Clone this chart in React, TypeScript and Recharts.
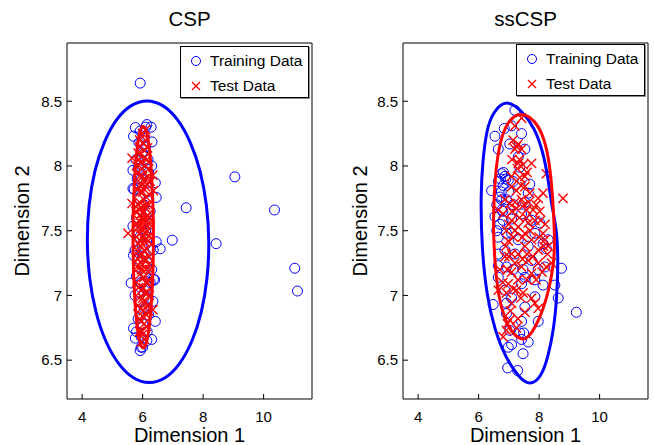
import { ScatterChart, Scatter, XAxis, YAxis } from "recharts";

type Pt = [number, number];

const xTicks = [4, 6, 8, 10];
const yTicks = [6.5, 7, 7.5, 8, 8.5];
const xDomain: [number, number] = [3.5, 11.6];
const yDomain: [number, number] = [6.2, 8.95];

// CSP panel
const cspTrain: Pt[] = [
    [5.92, 8.64], [9.05, 7.916], [7.44, 7.677], [10.36, 7.66], [6.98, 7.427],
    [8.43, 7.4], [6.58, 7.36], [11.03, 7.21], [11.12, 7.034], [6.42, 7.87],
    [6.45, 7.757], [6.45, 7.415], [6.36, 7.125], [6.42, 6.8], [6.34, 6.954],
    [6.14, 6.65], [5.92, 6.574], [5.95, 6.6], [5.76, 6.67], [5.7, 6.747],
    [5.62, 7.096], [5.7, 7.31], [5.68, 7.535], [5.68, 7.826], [5.68, 7.967],
    [5.7, 8.23], [5.76, 8.297], [6.14, 8.32], [6.1, 8.3], [5.92, 8.27],
    [6.31, 8.186], [5.78, 8.05], [5.85, 7.98], [6.0, 8.1], [6.1, 8.15],
    [5.95, 7.9], [6.2, 7.95], [6.3, 8.0], [5.72, 7.82], [5.9, 7.75],
    [6.05, 7.7], [6.15, 7.8], [6.25, 7.65], [5.8, 7.6], [6.0, 7.55],
    [6.1, 7.5], [5.9, 7.45], [6.2, 7.45], [6.35, 7.35], [5.75, 7.35],
    [5.85, 7.28], [6.0, 7.3], [6.15, 7.25], [6.3, 7.2], [5.8, 7.15],
    [5.95, 7.1], [6.1, 7.05], [6.25, 7.1], [6.4, 7.12], [5.75, 7.0],
    [5.9, 6.95], [6.05, 6.9], [6.2, 6.85], [5.85, 6.82], [6.0, 6.78],
    [6.15, 6.72], [5.8, 6.72], [6.3, 6.66], [5.95, 6.68], [6.05, 8.22],
    [5.88, 8.18], [6.28, 8.3], [6.12, 7.62], [5.98, 7.38], [6.08, 7.18],
    [5.92, 7.02], [6.18, 6.98], [6.22, 7.55], [5.82, 7.9], [6.18, 8.05],
    [6.0, 6.6],
];

const cspTest: Pt[] = [
    [5.9, 8.2], [6.0, 8.25], [6.1, 8.2], [5.85, 8.1], [6.05, 8.12],
    [6.15, 8.05], [5.8, 8.0], [5.95, 8.02], [6.2, 7.98], [5.9, 7.92],
    [6.05, 7.9], [6.25, 7.88], [5.82, 7.82], [6.0, 7.8], [6.12, 7.76],
    [5.9, 7.72], [6.2, 7.7], [5.78, 7.65], [6.0, 7.64], [6.1, 7.6],
    [5.88, 7.58], [6.25, 7.55], [5.95, 7.52], [6.08, 7.48], [5.8, 7.45],
    [6.18, 7.42], [5.92, 7.38], [6.05, 7.35], [6.22, 7.3], [5.85, 7.28],
    [6.0, 7.24], [6.12, 7.2], [5.9, 7.16], [6.2, 7.12], [5.8, 7.1],
    [6.02, 7.06], [6.15, 7.02], [5.88, 6.98], [6.08, 6.95], [5.95, 6.9],
    [6.2, 6.88], [5.9, 6.82], [6.05, 6.78], [6.0, 6.7], [5.96, 6.64],
    [6.1, 8.28], [5.98, 7.98], [6.1, 7.84], [5.95, 7.68], [6.15, 7.5],
    [5.9, 7.3], [6.1, 7.1], [6.0, 6.98], [6.12, 6.85], [5.84, 7.52],
    [6.06, 7.42], [6.16, 7.62], [5.86, 7.4], [6.24, 7.2], [5.94, 7.84],
    [5.52, 7.48], [5.65, 7.71], [6.34, 7.93], [6.34, 6.89], [6.36, 7.81],
    [5.65, 8.06], [5.92, 8.15], [6.02, 8.18], [5.88, 8.05], [6.08, 8.0],
    [6.18, 7.92], [5.84, 7.95], [5.96, 7.86], [6.14, 7.86], [6.04, 7.74],
    [5.86, 7.7], [6.22, 7.78], [6.08, 7.68], [5.92, 7.62], [6.2, 7.6],
    [5.82, 7.55], [6.02, 7.58], [6.12, 7.54], [5.9, 7.48], [6.0, 7.45],
    [6.22, 7.46], [5.86, 7.34], [6.14, 7.36], [5.98, 7.32], [6.1, 7.28],
    [5.82, 7.22], [5.96, 7.2], [6.2, 7.24], [6.04, 7.14], [5.86, 7.06],
    [6.16, 7.1], [5.96, 7.04], [6.22, 7.0], [5.84, 6.92], [6.02, 6.88],
    [6.14, 6.92], [5.94, 6.8], [6.12, 6.76], [5.98, 6.72], [6.06, 6.66],
    [5.9, 6.72], [6.06, 8.06], [5.94, 8.1], [6.16, 8.14], [6.0, 7.92],
    [5.92, 7.8], [6.1, 7.7], [5.98, 7.6], [6.04, 7.52], [5.94, 7.42],
    [6.12, 7.44], [6.02, 7.28], [5.92, 7.22], [6.08, 7.02], [6.0, 6.84],
    [5.9, 7.66],
];

const cspTrainEllipse: Pt[] = [
    [8.21, 7.415], [8.13, 7.7], [7.92, 7.965], [7.59, 8.19], [7.16, 8.37],
    [6.67, 8.478], [6.14, 8.515], [5.62, 8.478], [5.13, 8.37], [4.72, 8.19],
    [4.4, 7.965], [4.21, 7.7], [4.15, 7.415], [4.23, 7.13], [4.44, 6.865],
    [4.77, 6.637], [5.2, 6.463], [5.69, 6.352], [6.22, 6.315], [6.75, 6.352],
    [7.23, 6.463], [7.64, 6.637], [7.96, 6.865], [8.15, 7.13],
];

const cspTestEllipse: Pt[] = [
    [6.36, 7.45], [6.35, 7.674], [6.31, 7.883], [6.26, 8.062], [6.19, 8.199],
    [6.11, 8.286], [6.02, 8.315], [5.93, 8.286], [5.85, 8.199], [5.78, 8.062],
    [5.73, 7.883], [5.69, 7.674], [5.68, 7.45], [5.69, 7.226], [5.73, 7.017],
    [5.78, 6.838], [5.85, 6.701], [5.93, 6.614], [6.02, 6.585], [6.11, 6.614],
    [6.19, 6.701], [6.26, 6.838], [6.31, 7.017], [6.35, 7.226],
];

// ssCSP panel
const sscspTrain: Pt[] = [
    [7.2, 8.43], [6.54, 8.23], [6.85, 8.29], [7.09, 8.31], [7.42, 8.25],
    [7.53, 8.13], [6.65, 8.13], [7.03, 8.17], [7.31, 8.07], [6.76, 7.94],
    [6.87, 7.92], [6.65, 7.88], [6.81, 7.85], [6.98, 7.89], [7.14, 7.88],
    [6.43, 7.81], [6.7, 7.76], [6.92, 7.74], [7.53, 7.72], [7.69, 7.86],
    [6.54, 7.61], [6.81, 7.58], [7.09, 7.59], [7.42, 7.63], [7.75, 7.58],
    [8.02, 7.56], [6.65, 7.45], [6.92, 7.48], [7.31, 7.43], [7.64, 7.38],
    [8.13, 7.4], [8.24, 7.36], [6.87, 7.35], [6.65, 7.23], [6.92, 7.22],
    [7.14, 7.2], [7.47, 7.2], [7.97, 7.2], [8.74, 7.21], [7.53, 7.14],
    [7.86, 7.12], [8.13, 7.08], [8.52, 7.08], [7.42, 7.09], [6.48, 6.93],
    [6.92, 6.94], [7.09, 6.98], [7.53, 6.91], [8.63, 6.98], [9.23, 6.87],
    [6.92, 6.86], [7.42, 6.8], [7.97, 6.8], [7.03, 6.73], [7.36, 6.71],
    [7.49, 6.71], [7.64, 6.64], [7.42, 6.66], [7.09, 6.62], [6.98, 6.6],
    [7.47, 6.55], [6.96, 6.44], [7.29, 6.42], [6.76, 7.74], [6.76, 7.66],
    [7.09, 7.48], [7.2, 7.32], [7.75, 7.27], [7.86, 7.48], [7.64, 7.79],
    [7.36, 7.99], [6.65, 7.32], [6.65, 7.14], [6.87, 7.04], [7.86, 6.99],
    [8.19, 7.22], [8.3, 7.43], [6.72, 7.9], [6.82, 7.95], [6.9, 7.9],
    [6.75, 7.8], [6.6, 7.7], [6.7, 7.55], [6.6, 7.5], [7.0, 7.8],
    [6.8, 7.65], [7.15, 7.7],
];

const sscspTest: Pt[] = [
    [7.42, 8.37], [7.2, 8.31], [7.14, 8.2], [7.31, 8.17], [7.42, 8.13],
    [7.2, 8.13], [7.31, 8.02], [7.47, 8.01], [7.75, 8.02], [7.53, 7.92],
    [8.24, 7.94], [7.09, 7.84], [7.25, 7.81], [7.53, 7.84], [7.69, 7.79],
    [7.97, 7.75], [8.13, 7.79], [8.79, 7.75], [6.87, 7.74], [7.03, 7.71],
    [7.25, 7.67], [7.58, 7.66], [7.8, 7.66], [8.02, 7.65], [6.65, 7.66],
    [6.81, 7.63], [7.09, 7.58], [7.31, 7.53], [7.53, 7.48], [6.92, 7.5],
    [7.2, 7.5], [8.13, 7.48], [8.19, 7.43], [8.3, 7.38], [7.75, 7.43],
    [7.53, 7.38], [7.31, 7.32], [7.09, 7.32], [6.87, 7.3], [7.64, 7.27],
    [7.97, 7.25], [8.24, 7.22], [6.7, 7.2], [7.09, 7.18], [7.42, 7.22],
    [7.75, 7.17], [6.98, 7.09], [7.25, 7.04], [6.92, 7.02], [7.47, 7.02],
    [6.65, 7.04], [7.09, 6.94], [7.86, 6.94], [7.97, 6.9], [7.53, 6.87],
    [7.03, 6.81], [6.92, 6.73], [7.25, 6.75], [6.81, 6.68], [8.41, 7.25],
    [7.86, 7.58], [6.98, 7.42], [7.42, 7.74], [7.64, 7.56], [7.97, 7.35],
    [7.09, 7.92], [7.36, 7.91], [7.25, 8.15], [7.35, 8.05], [7.28, 7.98],
    [7.6, 7.95], [7.4, 7.85], [7.65, 7.72], [7.9, 7.7], [8.05, 7.58],
    [8.2, 7.55], [8.15, 7.38], [8.28, 7.32], [7.1, 7.65], [7.35, 7.6],
    [7.0, 7.55], [7.15, 7.45], [7.45, 7.45], [7.6, 7.32], [7.8, 7.3],
    [7.45, 7.28], [7.2, 7.25], [6.95, 7.2], [7.3, 7.12], [7.6, 7.12],
    [7.9, 7.12], [8.1, 7.18], [7.15, 7.05], [7.4, 6.98], [6.8, 7.1],
    [7.05, 6.88], [7.75, 6.98], [7.3, 6.82], [6.95, 6.78], [7.58, 7.6],
    [7.2, 7.72], [6.9, 7.38], [7.7, 7.5], [7.0, 7.3], [7.5, 7.7],
    [8.0, 7.45], [7.1, 8.05],
];

const sscspTrainEllipse: Pt[] = [
    [6.92, 8.52], [7.47, 8.417], [7.86, 8.29], [8.13, 8.11], [8.3, 7.9],
    [8.41, 7.7], [8.59, 7.505], [8.63, 7.25], [8.59, 6.99], [8.48, 6.73],
    [8.3, 6.53], [8.08, 6.37], [7.69, 6.3], [7.31, 6.37], [6.87, 6.53],
    [6.54, 6.73], [6.27, 6.99], [6.1, 7.376], [6.07, 7.775], [6.13, 8.03],
    [6.27, 8.29], [6.48, 8.417],
];

const sscspTestEllipse: Pt[] = [
    [7.42, 8.417], [7.86, 8.353], [8.13, 8.238], [8.3, 8.083], [8.41, 7.877],
    [8.48, 7.646], [8.52, 7.389], [8.48, 7.248], [8.35, 7.067], [8.13, 6.887],
    [7.86, 6.746], [7.64, 6.677], [7.47, 6.652], [7.14, 6.695], [6.87, 6.81],
    [6.65, 6.99], [6.54, 7.248], [6.48, 7.505], [6.51, 7.775], [6.59, 8.03],
    [6.76, 8.238], [7.03, 8.367],
];

const FONT = '"Liberation Sans", Arial, Helvetica, sans-serif';
const BLUE = "#0000ff";
const RED = "#ff0000";

const toObj = (pts: Pt[]) => pts.map(([x, y]) => ({ x, y }));

const Circle = (p: any) => (
    <circle cx={p.cx} cy={p.cy} r={5} fill="none" stroke={BLUE} strokeWidth={1} />
);
const Cross = (p: any) => (
    <g stroke={RED} strokeWidth={1.4}>
        <line x1={p.cx - 4.6} y1={p.cy - 4.6} x2={p.cx + 4.6} y2={p.cy + 4.6} />
        <line x1={p.cx - 4.6} y1={p.cy + 4.6} x2={p.cx + 4.6} y2={p.cy - 4.6} />
    </g>
);
const NoDot = () => <g />;

type PanelProps = {
    left: number;
    title: string;
    train: Pt[];
    test: Pt[];
    trainEll: Pt[];
    testEll: Pt[];
    yWidth: number;
    rightWidth: number;
    marginRight: number;
    legendLeft: number;
    legendTop: number;
    ylabelX: number;
};

function Panel(p: PanelProps) {
    const plotLeft = p.yWidth;
    const plotRight = 327 - p.marginRight - p.rightWidth;
    const cx = (plotLeft + plotRight) / 2;
    const tickStyle = { fontSize: 15, fill: "#000", fontFamily: FONT };
    return (
        <div style={{ position: "absolute", left: p.left, top: 0, width: 327, height: 445 }}>
            <ScatterChart
                width={327}
                height={445}
                margin={{ top: 33, right: p.marginRight, bottom: 0, left: 0 }}
            >
                <XAxis
                    xAxisId="b"
                    type="number"
                    dataKey="x"
                    domain={xDomain}
                    ticks={xTicks}
                    allowDataOverflow
                    height={46}
                    orientation="bottom"
                    tickSize={-5}
                    tickMargin={17}
                    tick={tickStyle}
                    stroke="#000"
                />
                <XAxis
                    xAxisId="t"
                    type="number"
                    dataKey="x"
                    domain={xDomain}
                    ticks={xTicks}
                    allowDataOverflow
                    height={10}
                    orientation="top"
                    tickSize={-5}
                    tick={false}
                    stroke="#000"
                />
                <YAxis
                    yAxisId="l"
                    type="number"
                    dataKey="y"
                    domain={yDomain}
                    ticks={yTicks}
                    allowDataOverflow
                    width={p.yWidth}
                    orientation="left"
                    tickSize={-5}
                    tickMargin={10}
                    tick={tickStyle}
                    stroke="#000"
                />
                <YAxis
                    yAxisId="r"
                    type="number"
                    dataKey="y"
                    domain={yDomain}
                    ticks={yTicks}
                    allowDataOverflow
                    width={p.rightWidth}
                    orientation="right"
                    tickSize={-5}
                    tick={false}
                    stroke="#000"
                />
                <Scatter
                    xAxisId="b"
                    yAxisId="l"
                    data={toObj(p.train)}
                    shape={Circle}
                    isAnimationActive={false}
                />
                <Scatter
                    xAxisId="b"
                    yAxisId="l"
                    data={toObj(p.test)}
                    shape={Cross}
                    isAnimationActive={false}
                />
                <Scatter
                    xAxisId="b"
                    yAxisId="l"
                    data={toObj(p.trainEll)}
                    shape={NoDot}
                    line={{ stroke: BLUE, strokeWidth: 3, fill: "none" }}
                    lineJointType="basisClosed"
                    isAnimationActive={false}
                />
                <Scatter
                    xAxisId="b"
                    yAxisId="l"
                    data={toObj(p.testEll)}
                    shape={NoDot}
                    line={{ stroke: RED, strokeWidth: 3, fill: "none" }}
                    lineJointType="basisClosed"
                    isAnimationActive={false}
                />
            </ScatterChart>

            <div
                style={{
                    position: "absolute",
                    left: cx - 100,
                    width: 200,
                    top: 7,
                    textAlign: "center",
                    fontFamily: FONT,
                    fontSize: 20.5,
                    lineHeight: "24px",
                }}
            >
                {p.title}
            </div>
            <div
                style={{
                    position: "absolute",
                    left: cx - 100,
                    width: 200,
                    top: 423,
                    textAlign: "center",
                    fontFamily: FONT,
                    fontSize: 20,
                    lineHeight: "24px",
                }}
            >
                Dimension 1
            </div>
            <div
                style={{
                    position: "absolute",
                    left: p.ylabelX - 100,
                    width: 200,
                    top: 221 - 12,
                    textAlign: "center",
                    fontFamily: FONT,
                    fontSize: 20,
                    lineHeight: "24px",
                    transform: "rotate(-90deg)",
                }}
            >
                Dimension 2
            </div>

            <div
                style={{
                    position: "absolute",
                    left: p.legendLeft,
                    top: p.legendTop,
                    width: 127,
                    height: 50,
                    border: "1px solid #000",
                    boxShadow: "1px 1px 0 #888",
                    background: "#fff",
                    fontFamily: FONT,
                    fontSize: 15.5,
                }}
            >
                <svg width={30} height={50} style={{ position: "absolute", left: 0, top: 0 }}>
                    <circle cx={15} cy={14} r={4.5} fill="none" stroke={BLUE} strokeWidth={1} />
                    <g stroke={RED} strokeWidth={1.3}>
                        <line x1={11} y1={35} x2={19} y2={43} />
                        <line x1={11} y1={43} x2={19} y2={35} />
                    </g>
                </svg>
                <div style={{ position: "absolute", left: 29, top: 4, lineHeight: "20px" }}>
                    Training Data
                </div>
                <div style={{ position: "absolute", left: 29, top: 29, lineHeight: "20px" }}>
                    Test Data
                </div>
            </div>
        </div>
    );
}

export default function App() {
    return (
        <div
            style={{
                position: "absolute",
                left: 0,
                top: 0,
                width: 654,
                height: 445,
                background: "#fff",
                overflow: "hidden",
            }}
        >
            <Panel
                left={0}
                title="CSP"
                train={cspTrain}
                test={cspTest}
                trainEll={cspTrainEllipse}
                testEll={cspTestEllipse}
                yWidth={67}
                rightWidth={10}
                marginRight={5}
                legendLeft={180}
                legendTop={46}
                ylabelX={22}
            />
            <Panel
                left={327}
                title="ssCSP"
                train={sscspTrain}
                test={sscspTest}
                trainEll={sscspTrainEllipse}
                testEll={sscspTestEllipse}
                yWidth={76}
                rightWidth={6}
                marginRight={0}
                legendLeft={189}
                legendTop={44}
                ylabelX={33}
            />
        </div>
    );
}
